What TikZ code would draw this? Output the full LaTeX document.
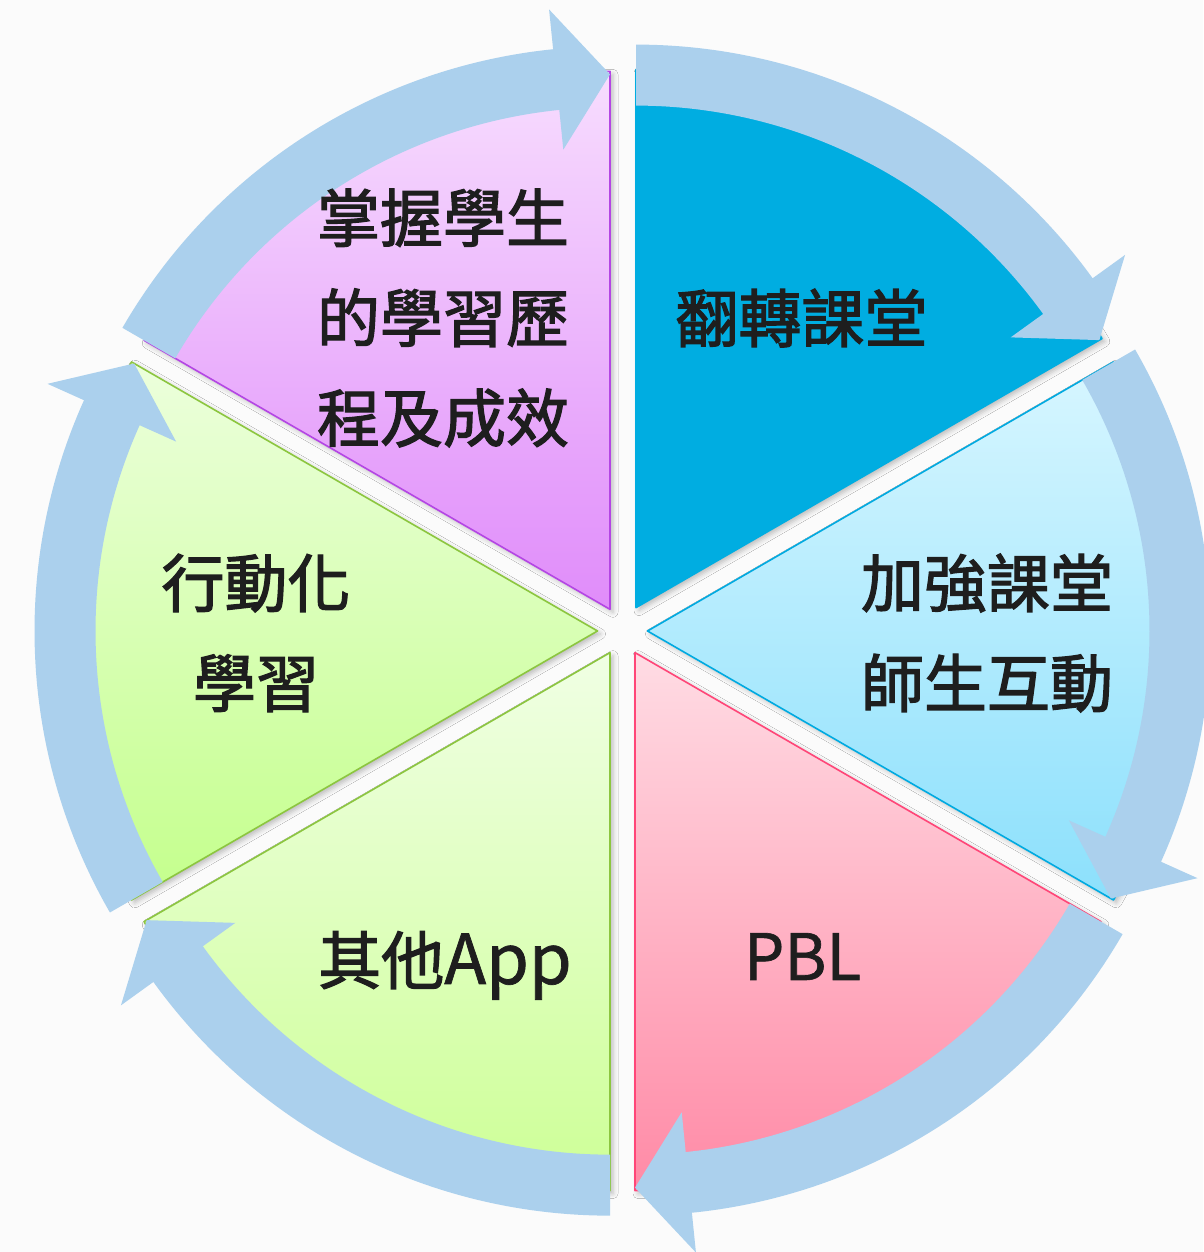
\documentclass[tikz,border=0pt]{standalone}
\usepackage{fontspec}
\newfontfamily\cjk{Noto Sans CJK TC}[FakeBold=2]
\newfontfamily\latn{Noto Sans CJK TC}[FakeBold=1]
\usetikzlibrary{calc,shadows.blur}
\definecolor{bg}{RGB}{251,251,251}
\definecolor{band}{RGB}{171,208,237}
\definecolor{txt}{RGB}{30,30,30}
\definecolor{trfill}{RGB}{0,173,225}
\definecolor{tltop}{RGB}{247,221,254}
\definecolor{tlbot}{RGB}{224,140,250}
\definecolor{tlline}{RGB}{180,70,228}
\definecolor{rtop}{RGB}{215,246,255}
\definecolor{rbot}{RGB}{140,224,252}
\definecolor{rline}{RGB}{0,170,225}
\definecolor{brtop}{RGB}{255,220,228}
\definecolor{brbot}{RGB}{255,138,166}
\definecolor{brline}{RGB}{255,70,120}
\definecolor{bltop}{RGB}{240,255,228}
\definecolor{blbot}{RGB}{205,255,150}
\definecolor{ltop}{RGB}{236,255,220}
\definecolor{lbot}{RGB}{196,255,140}
\definecolor{gline}{RGB}{140,198,63}
\tikzset{
  sect/.style={line width=1.6pt, line join=round,
    blur shadow={shadow xshift=3pt, shadow yshift=-3pt, shadow blur radius=5pt, shadow opacity=25}},
  lbl/.style={font=\cjk\fontsize{63}{100}\selectfont, text=txt, inner sep=0pt},
}
\newcommand\lat[2][69]{{\latn\fontsize{#1}{100}\selectfont #2}}
\newcommand\mysector[4]{%
  \path[sect,#4] (#1) -- ($(#1)+(#2:538)$) arc[start angle=#2, end angle=#3, radius=538] -- cycle;}
\newcommand\myarrow[3]{%
  \pgfmathsetmacro\hb{#3+5.8}%
  \fill[band] ($(#1)+(#2:563)$) arc[start angle=#2, end angle=\hb, radius=563]
    -- ($(#1)+(\hb:603)$) -- ($(#1)+(#3:535)$) -- ($(#1)+(\hb:462)$)
    -- ($(#1)+(\hb:502)$) arc[start angle=\hb, end angle=#2, radius=502] -- cycle;}
\begin{document}
\begin{tikzpicture}[x=1pt,y=1pt]
\useasboundingbox (0,0) rectangle (1203,1252);
\fill[bg] (0,0) rectangle (1203,1252);
\coordinate (C) at (622.5,621);
\coordinate (Atr) at ($(C)+(60:27)$);
\coordinate (Ar) at ($(C)+(0:25)$);
\coordinate (Abr) at ($(C)+(-60:25)$);
\coordinate (Abl) at ($(C)+(-120:25)$);
\coordinate (Al) at ($(C)+(180:25)$);
\coordinate (Atl) at ($(C)+(120:25)$);
% sectors
\mysector{Atl}{90}{150}{draw=tlline, top color=tltop, bottom color=tlbot}
\mysector{Al}{150}{210}{draw=gline, top color=ltop, bottom color=lbot}
\mysector{Abl}{210}{270}{draw=gline, top color=bltop, bottom color=blbot}
\mysector{Abr}{270}{330}{draw=brline, top color=brtop, bottom color=brbot}
\mysector{Ar}{-30}{30}{draw=rline, top color=rtop, bottom color=rbot}
\mysector{Atr}{30}{90}{draw=trfill, fill=trfill}
% arrows
\myarrow{Atr}{90}{30}
\myarrow{Ar}{30}{-30}
\myarrow{Abr}{330}{270}
\myarrow{Abl}{270}{210}
\myarrow{Al}{210}{150}
\myarrow{Atl}{150}{90}
% labels
\node[lbl, align=left] (ttl) at (443,934) {掌握學生\\的學習歷\\程及成效};
\node[lbl] (ttr) at (801.5,934) {翻轉課堂};
\node[lbl, align=left] (tr) at (987,619) {加強課堂\\師生互動};
\node[lbl, anchor=base] (tbr) at (802.5,272) {\lat[64]{PBL}};
\node[lbl, anchor=base] (tbl) at (445,268) {其他\lat{App}};
\node[lbl, align=center] (tl) at (256,619) {行動化\\學習};
\end{tikzpicture}
\end{document}
